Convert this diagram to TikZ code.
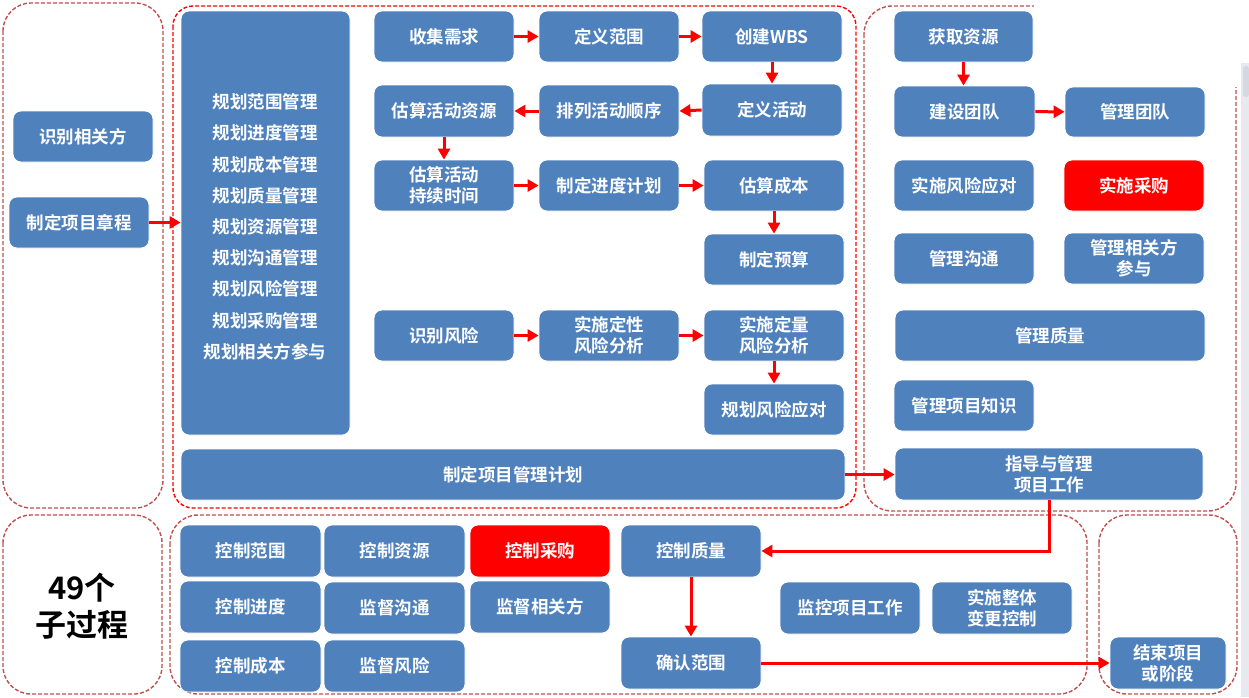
\documentclass[tikz,border=0pt]{standalone}
\usepackage{fontspec}
\setmainfont{Noto Sans CJK SC}[BoldFont={Noto Sans CJK SC Bold}]
\usetikzlibrary{arrows.meta}
\definecolor{boxblue}{RGB}{79,129,189}
\definecolor{dred}{RGB}{192,80,77}
\definecolor{sbar}{RGB}{232,233,238}
\definecolor{sthumb}{RGB}{214,216,224}
\tikzset{
  box/.style={draw=white, line width=0.8pt, fill=boxblue, rounded corners=8pt, text=white,
    font=\fontsize{17.5}{21}\selectfont\bfseries, align=center, inner sep=1pt},
  redbox/.style={box, fill=red},
  cont/.style={draw=dred, line width=1.4pt, dash pattern=on 4pt off 2pt, rounded corners=28pt},
  rcont/.style={draw=red, line width=1.4pt, dash pattern=on 4pt off 2pt, rounded corners=20pt},
  arr/.style={draw=red, line width=3pt, -{Triangle[length=11pt,width=12pt]}},
}
\newcommand\bx[7][box]{\node[#1, minimum width={(#5-#3)*1pt}, minimum height={(#6-#4)*1pt}] (#2) at ({(#3+#5)/2},{(#4+#6)/2}) {#7};}
\begin{document}
\begin{tikzpicture}[x=1pt,y=-1pt]
\useasboundingbox (0,0) rectangle (1249,697);
\fill[white] (0,0) rectangle (1249,697);
% containers
\draw[cont] (3,3) rectangle (163,508);
\draw[rcont] (173,6) rectangle (856,508);
\draw[cont] (864,6) rectangle (1236,511);
\draw[cont] (3,515) rectangle (162,694);
\draw[cont] (170,515) rectangle (1087,694);
\draw[cont] (1099,515) rectangle (1237,694);
\fill[white] (1034,0) rectangle (1241,87);
\fill[sbar] (1241,63) rectangle (1249,697);
\fill[sthumb, rounded corners=3pt] (1243,66) rectangle (1249,97);
% left column
\bx{sb}{13}{111}{153}{162}{识别相关方}
\bx{zc}{9}{197}{149}{248}{制定项目章程}
% planning big box
\bx{gh}{181}{11}{350}{435}{}
\foreach \t [count=\i from 0] in {规划范围管理,规划进度管理,规划成本管理,规划质量管理,规划资源管理,规划沟通管理,规划风险管理,规划采购管理,规划相关方参与}
  \node[text=white, font=\fontsize{17.5}{21}\selectfont\bfseries] at (265,{102+31.2*\i}) {\t};
% planning flow
\bx{sj}{374}{11}{514}{62}{收集需求}
\bx{dyfw}{539}{11}{679}{62}{定义范围}
\bx{wbs}{702}{11}{842}{62}{创建WBS}
\bx{gszy}{374}{85}{514}{137}{估算活动资源}
\bx{pl}{539}{85}{679}{137}{排列活动顺序}
\bx{dyhd}{702}{84}{842}{136}{定义活动}
\bx{gssj}{374}{160}{514}{211}{估算活动\\持续时间}
\bx{jd}{539}{160}{679}{211}{制定进度计划}
\bx{gscb}{704}{160}{844}{211}{估算成本}
\bx{ys}{704}{234}{844}{285}{制定预算}
\bx{sbfx}{374}{310}{514}{361}{识别风险}
\bx{dx}{539}{310}{679}{361}{实施定性\\风险分析}
\bx{dl}{704}{310}{844}{361}{实施定量\\风险分析}
\bx{fxyd}{704}{384}{844}{435}{规划风险应对}
\bx{jh}{181}{449}{845}{500}{制定项目管理计划}
% executing
\bx{hq}{894}{11}{1033}{62}{获取资源}
\bx{js}{894}{86}{1035}{137}{建设团队}
\bx{gltd}{1065}{87}{1205}{137}{管理团队}
\bx{ssyd}{894}{160}{1034}{211}{实施风险应对}
\bx[redbox]{sscg}{1064}{160}{1204}{211}{实施采购}
\bx{glgt}{894}{233}{1034}{284}{管理沟通}
\bx{glxg}{1064}{233}{1204}{284}{管理相关方\\参与}
\bx{glzl}{895}{310}{1205}{361}{管理质量}
\bx{glzs}{894}{380}{1034}{431}{管理项目知识}
\bx{zd}{895}{448}{1203}{500}{指导与管理\\项目工作}
% monitoring
\bx{kzfw}{180}{525}{321}{577}{控制范围}
\bx{kzzy}{324}{525}{465}{577}{控制资源}
\bx[redbox]{kzcg}{470}{525}{610}{577}{控制采购}
\bx{kzzl}{621}{525}{761}{577}{控制质量}
\bx{kzjd}{180}{581}{321}{633}{控制进度}
\bx{jdgt}{324}{582}{465}{634}{监督沟通}
\bx{jdxg}{470}{581}{610}{633}{监督相关方}
\bx{jkgz}{780}{582}{920}{634}{监控项目工作}
\bx{zt}{932}{582}{1072}{634}{实施整体\\变更控制}
\bx{kzcb}{180}{640}{321}{692}{控制成本}
\bx{jdfx}{324}{640}{465}{692}{监督风险}
\bx{qr}{621}{637}{761}{689}{确认范围}
\bx{jsxm}{1110}{637}{1226}{689}{结束项目\\或阶段}
\node[font=\fontsize{31}{37}\selectfont\bfseries, align=center, text=black] (lbl) at (82,606) {49个\\子过程};
% arrows
\draw[arr] (zc.east) -- (zc.east -| gh.west);
\draw[arr] (sj) -- (dyfw);
\draw[arr] (dyfw) -- (wbs);
\draw[arr] (wbs.south) -- (dyhd.north);
\draw[arr] (dyhd.west) -- (pl.east);
\draw[arr] (pl.west) -- (gszy.east);
\draw[arr] (gszy.south) -- (gssj.north);
\draw[arr] (gssj) -- (jd);
\draw[arr] (jd) -- (gscb);
\draw[arr] (gscb.south) -- (ys.north);
\draw[arr] (sbfx) -- (dx);
\draw[arr] (dx) -- (dl);
\draw[arr] (dl.south) -- (fxyd.north);
\draw[arr] (jh.east) -- (jh.east -| zd.west);
\draw[arr] (hq.south) -- (hq.south |- js.north);
\draw[arr] (js) -- (gltd);
\draw[arr] (zd.south) |- (kzzl.east);
\draw[arr] (kzzl.south) -- (qr.north);
\draw[arr] (qr.east) -- (qr.east -| jsxm.west);
\end{tikzpicture}
\end{document}
